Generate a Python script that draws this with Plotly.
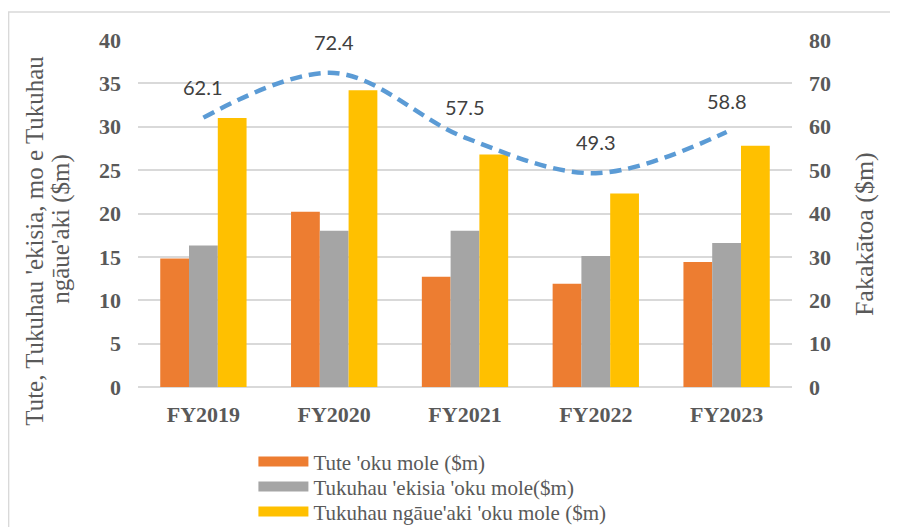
import plotly.graph_objects as go

categories = ["FY2019", "FY2020", "FY2021", "FY2022", "FY2023"]
tute = [14.8, 20.2, 12.7, 11.9, 14.4]
ekisia = [16.3, 18.0, 18.0, 15.1, 16.6]
ngaueaki = [31.0, 34.2, 26.8, 22.3, 27.8]
total = [62.1, 72.4, 57.5, 49.3, 58.8]

names = ["Tute 'oku mole ($m)", "Tukuhau 'ekisia 'oku mole($m)", "Tukuhau ngāue'aki 'oku mole ($m)"]
colors = ["#ED7D31", "#A5A5A5", "#FFC000"]
line_color = "#5B9BD5"

serif = "Liberation Serif"
grey = "#595959"

W, H = 898, 527
OFF = 8  # page body margin
# plot area in page pixels
PL, PR, PT, PB = 137.5, 792, 40, 386.7
L, R, T, B = PL - OFF, W - (PR - OFF), PT - OFF, H - (PB - OFF)
pw, ph = PR - PL, PB - PT
def px(x):
    return (x - PL) / pw
def py(y):
    return (PB - y) / ph

legend_ids = ["legend", "legend2", "legend3"]
row_centers = [462, 487, 512]

fig = go.Figure()
for vals, name, col in zip([tute, ekisia, ngaueaki], names, colors):
    fig.add_trace(go.Bar(x=categories, y=vals, name=name, marker_color=col,
                         marker_line_width=0, showlegend=False))
# legend swatches
for name, col, lid in zip(names, colors, legend_ids):
    fig.add_trace(go.Scatter(x=[None], y=[None], mode="lines", name=name,
                             line=dict(color=col, width=12), legend=lid))

fig.add_trace(go.Scatter(x=categories, y=total, yaxis="y2", mode="lines",
                         line=dict(color=line_color, width=4.5, dash="12px,7px",
                                   shape="spline", smoothing=1.0),
                         showlegend=False, hoverinfo="skip"))

for c, v in zip(categories, total):
    fig.add_annotation(x=c, y=v, yref="y2", text=f"{v}", showarrow=False,
                       yshift=31, font=dict(family="Lato", size=20, color="#404040"))

fig.add_annotation(xref="paper", yref="paper", x=px(34), y=py(241),
                   xanchor="center", yanchor="middle",
                   text="Tute, Tukuhau 'ekisia, mo e Tukuhau",
                   textangle=-90, showarrow=False,
                   font=dict(family=serif, size=25, color=grey))
fig.add_annotation(xref="paper", yref="paper", x=px(61), y=py(229),
                   xanchor="center", yanchor="middle",
                   text="ngāue'aki ($m)",
                   textangle=-90, showarrow=False,
                   font=dict(family=serif, size=25, color=grey))
fig.add_annotation(xref="paper", yref="paper", x=px(864), y=py(234),
                   xanchor="center", yanchor="middle",
                   text="Fakakātoa ($m)", textangle=-90, showarrow=False,
                   font=dict(family=serif, size=26, color=grey))

fig.add_shape(type="rect", xref="paper", yref="paper",
              x0=px(8), x1=px(893), y0=py(560), y1=py(12),
              line=dict(color="#D9D9D9", width=1.5), layer="below")

tickfont = dict(family=serif, size=22, color=grey, weight="bold")
layout_legends = {}
for lid, cy in zip(legend_ids, row_centers):
    layout_legends[lid] = dict(x=px(253), y=py(cy - 21), xanchor="left", yanchor="top",
                               orientation="v", font=dict(family=serif, size=21, color=grey),
                               bgcolor="rgba(0,0,0,0)", itemwidth=50)

fig.update_layout(
    width=W, height=H,
    margin=dict(l=L, r=R, t=T, b=B, autoexpand=False),
    paper_bgcolor="white", plot_bgcolor="white",
    barmode="group", bargap=0.34, bargroupgap=0,
    xaxis=dict(showgrid=False, showline=False, zeroline=False,
               tickfont=tickfont, ticklabelstandoff=12, automargin=False),
    yaxis=dict(range=[0, 40], dtick=5, showgrid=True, gridcolor="#D9D9D9",
               gridwidth=1.5, zeroline=True, zerolinecolor="#D9D9D9", zerolinewidth=1.5,
               showline=False, tickfont=tickfont, ticklabelstandoff=16, automargin=False),
    yaxis2=dict(range=[0, 80], dtick=10, overlaying="y", side="right",
                showgrid=False, zeroline=False, showline=False,
                tickfont=tickfont, ticklabelstandoff=16, automargin=False),
    showlegend=True,
    **layout_legends,
)

fig.write_html("out.html")
